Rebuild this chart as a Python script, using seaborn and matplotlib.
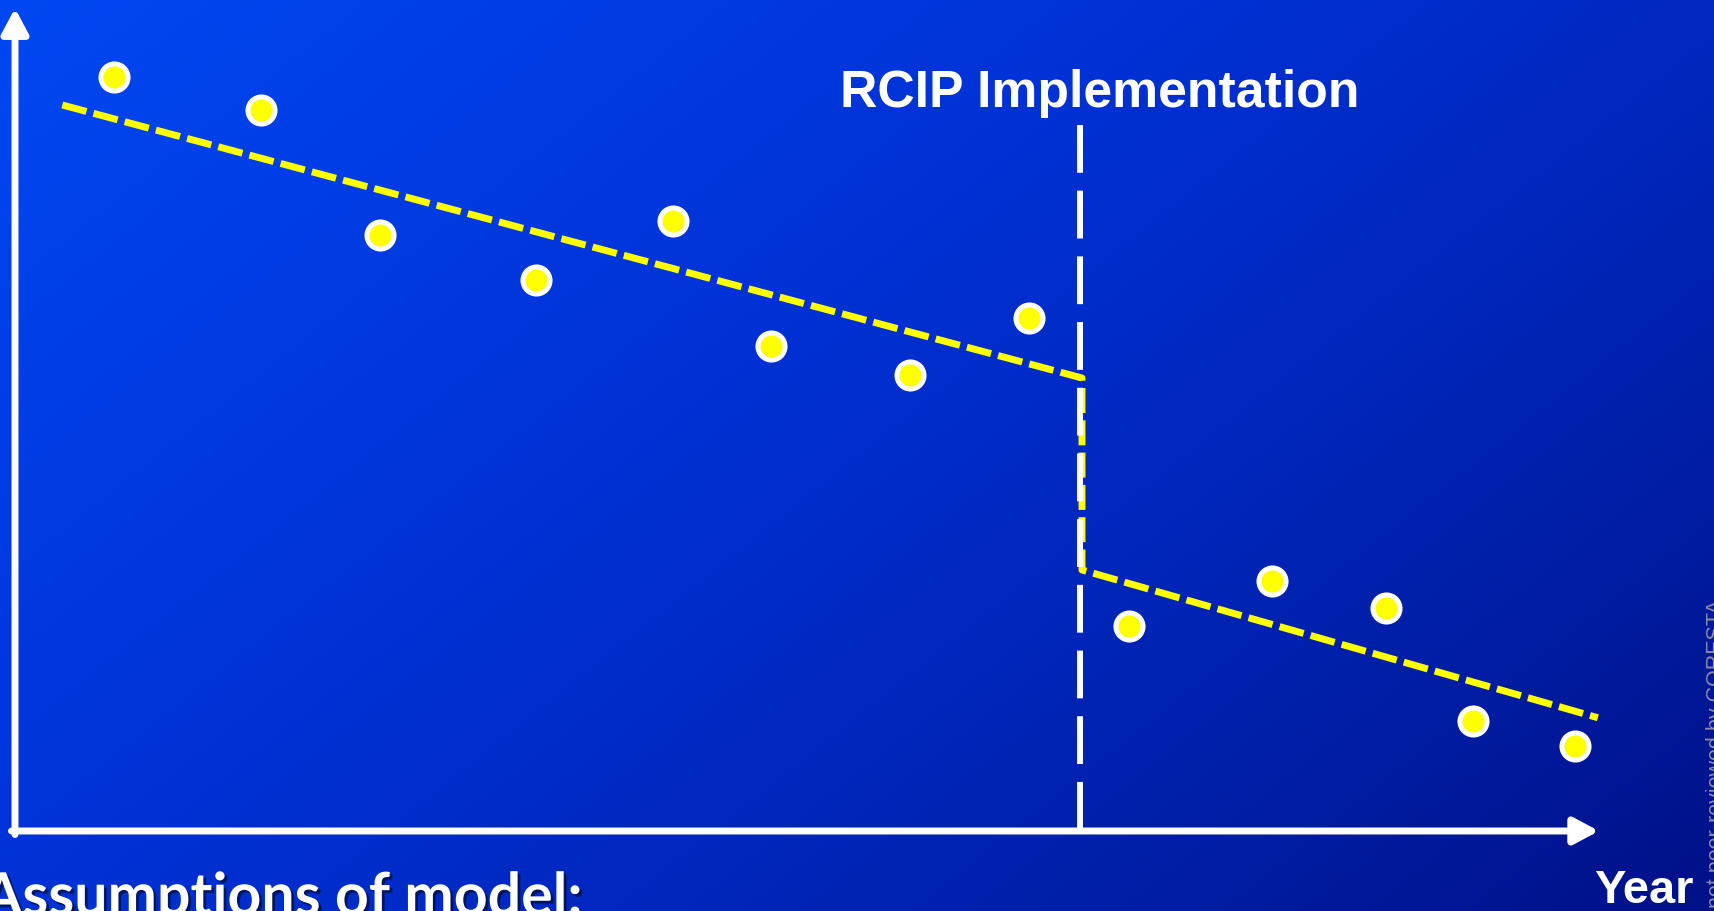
import numpy as np
import pandas as pd
import matplotlib as mpl
mpl.use("Agg")
import matplotlib.pyplot as plt
import matplotlib.patheffects as pe
import seaborn as sns

sns.set_theme(style="white")
plt.rcParams['font.family'] = ['Liberation Sans', 'DejaVu Sans']

# observations (year index, rate in arbitrary units)
years = [0.90, 2.24, 3.32, 4.74, 5.98, 6.87, 8.14, 9.22, 10.13, 11.43, 12.46, 13.25, 14.18]
values = [10.05, 9.62, 7.95, 7.35, 8.14, 6.47, 6.08, 6.84, 2.73, 3.34, 2.98, 1.47, 1.13]

# segmented trend: pre-RCIP line, drop at implementation, post-RCIP line
trend_x = [0.43, 9.70, 9.70, 14.39]
trend_y = [9.68, 6.04, 3.48, 1.51]

rcip_year = 9.68
rcip_top = 9.41
x_max = 14.40
y_max = 10.97

df = pd.DataFrame({"year": years, "value": values})
trend = pd.DataFrame({"year": trend_x, "value": trend_y})
rcip = pd.DataFrame({"year": [rcip_year, rcip_year], "value": [rcip_top, 0]})

fig = plt.figure(figsize=(17.14, 9.11), dpi=100)
ax = fig.add_axes([0, 0, 1, 1])
x0, x1 = -15 / 110, (1714 - 15) / 110
y0, y1 = (831 - 911) / 75, 831 / 75

# slide background: diagonal blue gradient
u = np.linspace(0, 1, 400)[None, :]
v = np.linspace(0, 1, 220)[:, None]
t = 0.6 * u + 0.4 * v
stops = [0, 0.4, 0.6, 0.8, 1]
r = np.interp(t, stops, [0, 0, 0, 0, 0])
g = np.interp(t, stops, [72, 50, 40, 30, 16])
b = np.interp(t, stops, [242, 214, 192, 165, 135])
bg = np.dstack([r, g, b]) / 255
ax.imshow(bg, extent=(x0, x1, y0, y1), aspect='auto', interpolation='bilinear', zorder=0)

# axes with arrows
arrow = dict(arrowstyle='-|>,head_length=15,head_width=8', color='white', lw=5,
             shrinkA=0, shrinkB=0, mutation_scale=1)
ax.annotate('', xy=(x_max, 0), xytext=(-0.032, 0), arrowprops=arrow, zorder=6)
ax.annotate('', xy=(0, y_max), xytext=(0, -0.047), arrowprops=arrow, zorder=6)

sns.lineplot(data=trend, x="year", y="value", sort=False, estimator=None, color='#ffff00',
             linewidth=5, linestyle=(0, (3.6, 1.05)), ax=ax, zorder=3)
sns.lineplot(data=rcip, x="year", y="value", sort=False, estimator=None, color='white',
             linewidth=4.3, linestyle=(0, (8, 3)), ax=ax, zorder=4)
sns.scatterplot(data=df, x="year", y="value", s=380, color='#ffff00', edgecolor='white',
                linewidth=3.6, ax=ax, zorder=5)
ax.set_xlim(x0, x1)
ax.set_ylim(y0, y1)
ax.axis('off')

ax.text(9.86, 9.65, 'RCIP Implementation', ha='center', va='baseline', color='white',
        fontsize=37.3, fontweight='bold')
ax.text(14.36, -0.96, 'Year', ha='left', va='baseline', color='white',
        fontsize=33.8, fontweight='bold')
ax.text(5.16, -1.12, 'Assumptions of model:', ha='right', va='baseline', color='white',
        fontsize=42.5, fontweight='bold', family=['Lato', 'DejaVu Sans'],
        path_effects=[pe.withSimplePatchShadow(offset=(2, -2), shadow_rgbFace='black', alpha=0.5)])
ax.text(15.52, -1.027, 'not peer-reviewed by CORESTA', rotation=90, rotation_mode='anchor',
        ha='left', va='baseline', color='#8a8aa6', fontsize=15.5)

fig.savefig("out.png", dpi=100)
